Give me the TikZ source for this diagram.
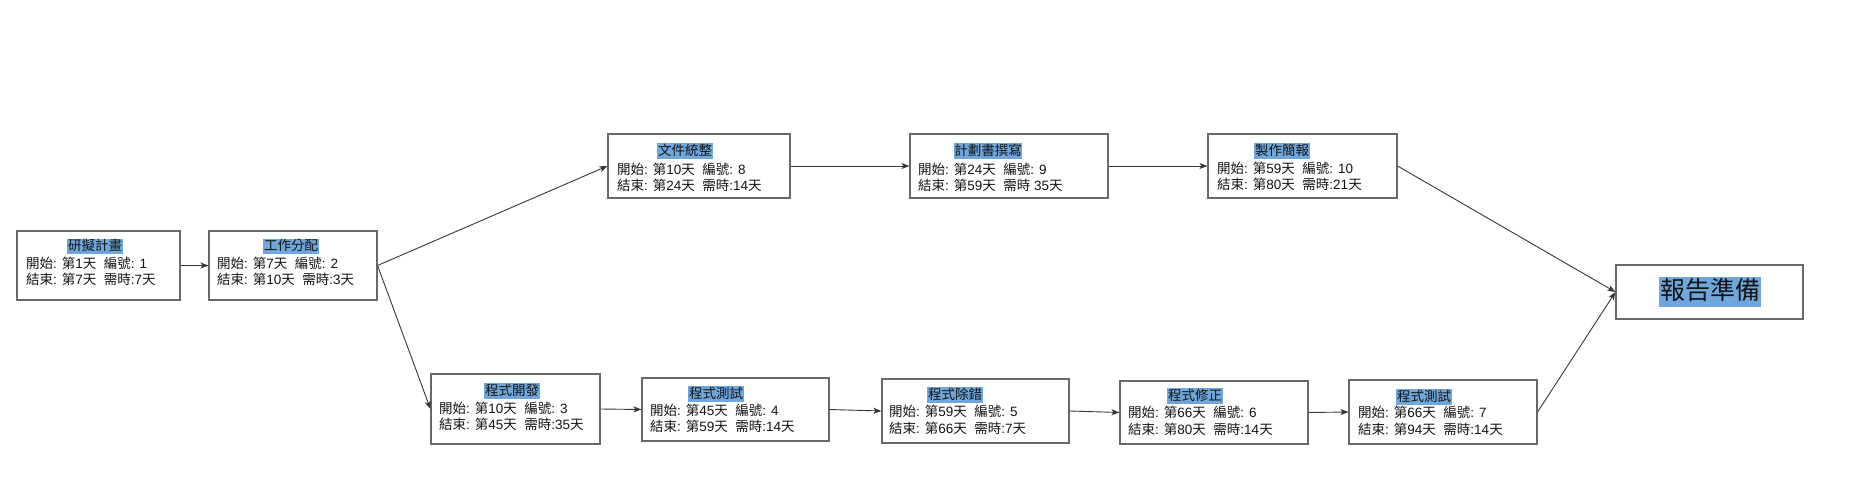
\documentclass[tikz,border=0pt]{standalone}
\usepackage{fontspec}
\setmainfont{Liberation Sans}
\newfontfamily\cjk{Noto Sans CJK TC}
\usetikzlibrary{arrows.meta}
\newcommand\zh[1]{{\cjk #1}}
\definecolor{hl}{RGB}{111,167,220}
\definecolor{bordergray}{RGB}{105,105,105}
\definecolor{linegray}{RGB}{55,55,55}
\definecolor{txt}{RGB}{20,20,20}
\tikzset{
  taskbox/.style={draw=bordergray, line width=1.1pt, fill=white, inner sep=0pt},
  tasktitle/.style={fill=hl, text=txt, inner xsep=0.6pt, inner ysep=0pt, text height=11.8pt, text depth=3.6pt, font=\fontsize{13.5}{16.5}\selectfont},
  tasklines/.style={anchor=west, text=txt, inner sep=0pt, align=left, font=\fontsize{13.5}{16.5}\selectfont},
  flow/.style={draw=linegray, line width=0.9pt, -{Stealth[length=8pt,width=6pt,inset=2pt]}}
}
\begin{document}
\begin{tikzpicture}[x=1pt, y=-1pt]
\useasboundingbox[fill=white] (0,0) rectangle (1868,498);

% boxes as nodes: center, width, height
\node[taskbox, minimum width=163, minimum height=69] (b1) at (98.5,265.5) {};
\node[taskbox, minimum width=168, minimum height=69] (b2) at (293,265.5) {};
\node[taskbox, minimum width=182, minimum height=64] (b8) at (699,166) {};
\node[taskbox, minimum width=198, minimum height=64] (b9) at (1009,166) {};
\node[taskbox, minimum width=189, minimum height=64] (b10) at (1302.5,166) {};
\node[taskbox, minimum width=169, minimum height=70] (b3) at (515.5,409) {};
\node[taskbox, minimum width=187, minimum height=63] (b4) at (735.5,409.5) {};
\node[taskbox, minimum width=187, minimum height=64] (b5) at (975.5,411) {};
\node[taskbox, minimum width=188, minimum height=63] (b6) at (1214,412.5) {};
\node[taskbox, minimum width=188, minimum height=64] (b7) at (1443,412) {};
\node[taskbox, minimum width=187, minimum height=54] (fin) at (1709.5,292) {};

% titles
\node[tasktitle] (t1) at (95,246.5) {\zh{研擬計畫}};
\node[tasktitle] (t2) at (291,246.5) {\zh{工作分配}};
\node[tasktitle] (t8) at (685,151) {\zh{文件統整}};
\node[tasktitle] (t9) at (988,151) {\zh{計劃書撰寫}};
\node[tasktitle] (t10) at (1282,151) {\zh{製作簡報}};
\node[tasktitle] (t3) at (512,391) {\zh{程式開發}};
\node[tasktitle] (t4) at (716,394) {\zh{程式測試}};
\node[tasktitle] (t5) at (955,395) {\zh{程式除錯}};
\node[tasktitle] (t6) at (1195,396) {\zh{程式修正}};
\node[tasktitle] (t7) at (1424,397) {\zh{程式測試}};
\node[fill=hl, text=txt, inner xsep=1pt, inner ysep=0pt, text height=22pt, text depth=7.5pt, font=\fontsize{25}{30}\selectfont] (tf) at (1710,292) {\zh{報告準備}};

% detail lines
\node[tasklines] (l1) at (26,271.5) {\zh{開始}: \zh{第}1\zh{天}\ \ \zh{編號}: 1\\\zh{結束}: \zh{第}7\zh{天}\ \ \zh{需時}:7\zh{天}};
\node[tasklines] (l2) at (217,271.5) {\zh{開始}: \zh{第}7\zh{天}\ \ \zh{編號}: 2\\\zh{結束}: \zh{第}10\zh{天}\ \ \zh{需時}:3\zh{天}};
\node[tasklines] (l8) at (617,177.5) {\zh{開始}: \zh{第}10\zh{天}\ \ \zh{編號}: 8\\\zh{結束}: \zh{第}24\zh{天}\ \ \zh{需時}:14\zh{天}};
\node[tasklines] (l9) at (918,177.5) {\zh{開始}: \zh{第}24\zh{天}\ \ \zh{編號}: 9\\\zh{結束}: \zh{第}59\zh{天}\ \ \zh{需時} 35\zh{天}};
\node[tasklines] (l10) at (1217,176.5) {\zh{開始}: \zh{第}59\zh{天}\ \ \zh{編號}: 10\\\zh{結束}: \zh{第}80\zh{天}\ \ \zh{需時}:21\zh{天}};
\node[tasklines] (l3) at (439,416.5) {\zh{開始}: \zh{第}10\zh{天}\ \ \zh{編號}: 3\\\zh{結束}: \zh{第}45\zh{天}\ \ \zh{需時}:35\zh{天}};
\node[tasklines] (l4) at (650,418.5) {\zh{開始}: \zh{第}45\zh{天}\ \ \zh{編號}: 4\\\zh{結束}: \zh{第}59\zh{天}\ \ \zh{需時}:14\zh{天}};
\node[tasklines] (l5) at (889,420) {\zh{開始}: \zh{第}59\zh{天}\ \ \zh{編號}: 5\\\zh{結束}: \zh{第}66\zh{天}\ \ \zh{需時}:7\zh{天}};
\node[tasklines] (l6) at (1128,421) {\zh{開始}: \zh{第}66\zh{天}\ \ \zh{編號}: 6\\\zh{結束}: \zh{第}80\zh{天}\ \ \zh{需時}:14\zh{天}};
\node[tasklines] (l7) at (1358,421) {\zh{開始}: \zh{第}66\zh{天}\ \ \zh{編號}: 7\\\zh{結束}: \zh{第}94\zh{天}\ \ \zh{需時}:14\zh{天}};

% connectors
\draw[flow] (b1.east) -- (b2.west);
\draw[flow] (b2.east) -- (b8.west);
\draw[flow] (b2.east) -- (b3.west);
\draw[flow] (b8.east) -- (b9.west);
\draw[flow] (b9.east) -- (b10.west);
\draw[flow] (b10.east) -- (fin.west);
\draw[flow] (b3.east) -- (b4.west);
\draw[flow] (b4.east) -- (b5.west);
\draw[flow] (b5.east) -- (b6.west);
\draw[flow] (b6.east) -- (b7.west);
\draw[flow] (b7.east) -- (fin.west);
\end{tikzpicture}
\end{document}
